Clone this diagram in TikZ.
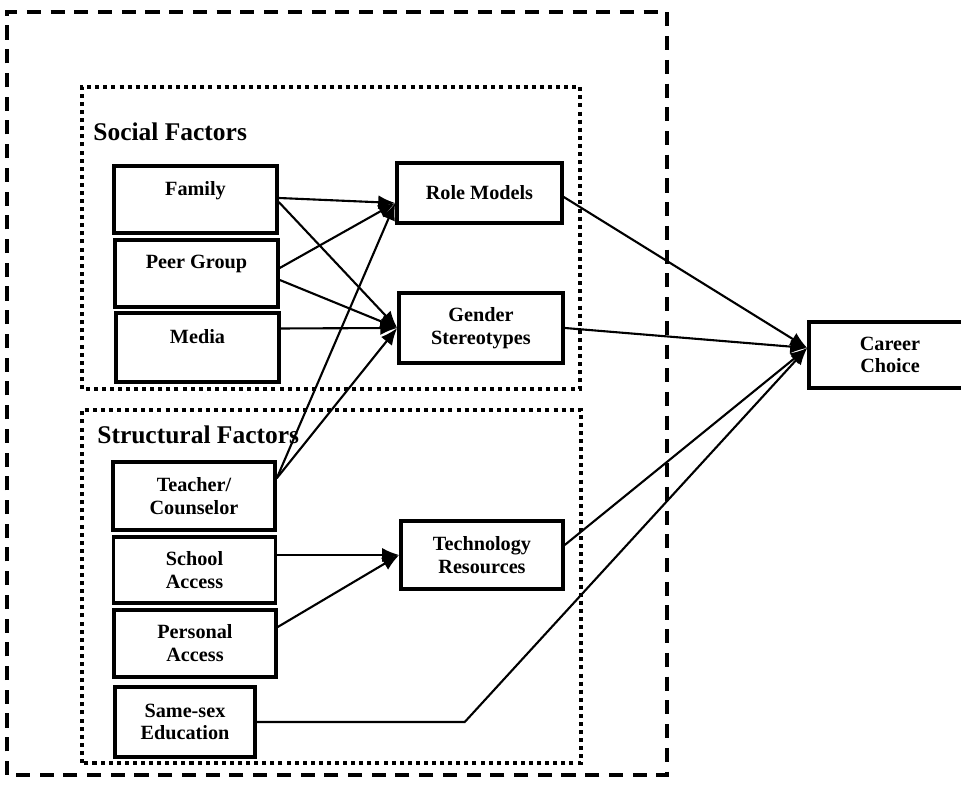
\documentclass[tikz,border=0pt]{standalone}
\usepackage{fontspec}
\setmainfont{Liberation Serif}
\usetikzlibrary{arrows.meta,positioning}
\begin{document}
\begin{tikzpicture}
    \tikzstyle{factor} = [draw, rectangle, line width=2pt, minimum width=3.24cm, minimum height=1.34cm, align=center, inner sep=2pt, font=\bfseries\fontsize{11.5}{13}\selectfont]
    \tikzstyle{la} = [-{Latex[length=3.4mm,width=2.8mm]}, line width=1.2pt]
    \tikzstyle{groupbox} = [line width=2.3pt, dash pattern=on 2.3pt off 2.3pt]
    \tikzstyle{outerbox} = [line width=2.4pt, dash pattern=on 8pt off 5.5pt]
    \tikzstyle{heading} = [anchor=west, inner sep=0pt, font=\bfseries\fontsize{14.5}{16}\selectfont]
    \useasboundingbox (0,0) rectangle (19.22,16.12);
    % frames
    \draw[outerbox] (0.14,0.62) rectangle (13.34,15.88);
    \draw[groupbox] (1.64,8.34) rectangle (11.6,14.38);
    \draw[groupbox] (1.64,0.86) rectangle (11.62,7.92);
    \node[heading] (social) at (1.86,13.48) {Social Factors};
    \node[heading] (structural) at (1.94,7.42) {Structural Factors};
    % social factors
    \node[factor, minimum width=3.26cm] (family) at (3.91,12.13) {Family\\ \mbox{}};
    \node[factor, minimum width=3.26cm] (peer) at (3.93,10.65) {Peer Group\\ \mbox{}};
    \node[factor, minimum width=3.26cm, minimum height=1.38cm] (media) at (3.95,9.17) {Media\\ \mbox{}};
    \node[factor, minimum width=3.3cm, minimum height=1.2cm] (rolemodels) at (9.59,12.26) {Role Models};
    \node[factor, minimum width=3.28cm, minimum height=1.4cm] (stereotypes) at (9.62,9.56) {Gender\\Stereotypes};
    % structural factors
    \node[factor, minimum height=1.36cm] (teacher) at (3.88,6.2) {Teacher/\\Counselor};
    \node[factor, minimum height=1.32cm] (school) at (3.89,4.72) {School\\Access};
    \node[factor] (personal) at (3.9,3.25) {Personal\\Access};
    \node[factor, minimum width=2.8cm, minimum height=1.4cm] (samesex) at (3.7,1.68) {Same-sex\\Education};
    \node[factor, minimum height=1.36cm] (tech) at (9.64,5.02) {Technology\\Resources};
    \node[factor, minimum height=1.32cm] (career) at (17.8,9.02) {Career\\Choice};
    \coordinate[right=4.16cm of samesex.east] (bend);
    % connectors
    \draw[la] ([yshift=0.03cm]family.east) -- ([yshift=-0.2cm]rolemodels.west);
    \draw[la] ([yshift=-0.05cm]family.east) -- (stereotypes.west);
    \draw[la] ([yshift=0.11cm]peer.east) -- ([yshift=-0.2cm]rolemodels.west);
    \draw[la] ([yshift=-0.13cm]peer.east) -- (stereotypes.west);
    \draw[la] ([yshift=0.38cm]media.east) -- (stereotypes.west);
    \draw[la] ([yshift=-0.36cm]teacher.north east) -- ([yshift=-0.2cm]rolemodels.west);
    \draw[la] ([yshift=-0.36cm]teacher.north east) -- (stereotypes.west);
    \draw[la] ([yshift=0.3cm]school.east) -- (tech.west);
    \draw[la] ([yshift=0.33cm]personal.east) -- (tech.west);
    \draw[la] ([yshift=-0.08cm]rolemodels.east) -- ([yshift=0.14cm]career.west);
    \draw[la] (stereotypes.east) -- ([yshift=0.14cm]career.west);
    \draw[la] ([yshift=0.2cm]tech.east) -- ([yshift=0.14cm]career.west);
    \draw[la] (samesex.east) -- (bend) -- ([yshift=0.14cm]career.west);
\end{tikzpicture}
\end{document}
